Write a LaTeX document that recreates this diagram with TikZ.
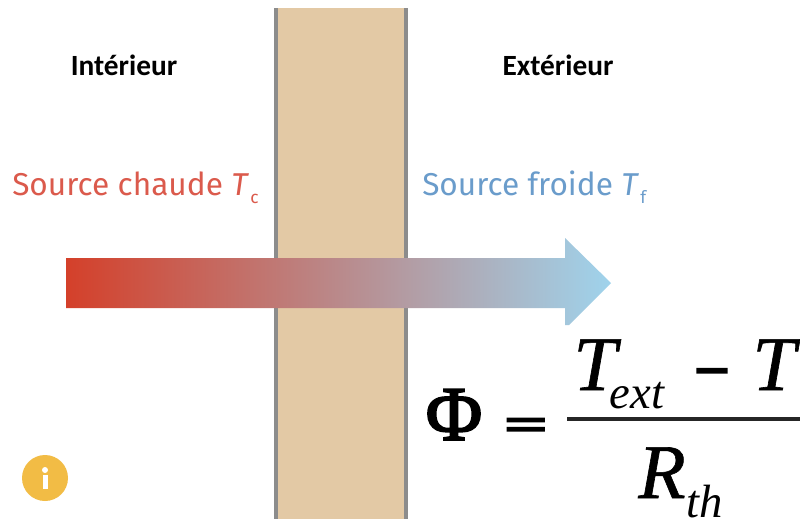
\documentclass[tikz,border=0pt]{standalone}
\usepackage{fontspec}
\setmainfont{Liberation Serif}
\newfontfamily\fira{Fira Sans}
\newfontfamily\carl{Carlito}
\newfontfamily\heavy[FakeBold=2.5]{Liberation Serif}
\newfontfamily\heavyit[FakeBold=0.8]{Liberation Serif Italic}
\newfontfamily\heavybar[FakeBold=3]{Liberation Serif Bold}
\definecolor{wallc}{HTML}{E3C9A5}
\definecolor{wallb}{HTML}{8C8C8C}
\definecolor{hot}{HTML}{D4402A}
\definecolor{hottxt}{HTML}{DB5A4C}
\definecolor{coldtxt}{HTML}{6A9CCB}
\definecolor{cold}{HTML}{9FD3EC}
\definecolor{midc}{HTML}{B3A0AF}
\definecolor{infoc}{HTML}{F2BC45}
\newcommand{\fsz}[1]{\fontsize{#1}{#1}\selectfont}
\tikzset{
  x=0.75pt,y=-0.75pt,
  lab/.style={inner sep=0pt,anchor=base,text=black,font=\carl\bfseries\fsz{22}},
  src/.style={inner sep=0pt,anchor=base west,font=\fira\fsz{23.7}},
  eq/.style={inner sep=0pt,anchor=base,text=black},
}
\begin{document}
\begin{tikzpicture}
\useasboundingbox (0,0) rectangle (800,519);
\fill[white] (0,0) rectangle (800,519);
% wall
\fill[wallc] (277,8) rectangle (406,519);
\draw[wallb,line width=3pt] (276,8) -- (276,519);
\draw[wallb,line width=3pt] (406,8) -- (406,519);
% arrow
\shade[left color=hot,middle color=midc,right color=cold]
  (66,258) -- (565,258) -- (565,238) -- (611,283) -- (569,325) -- (565,325) -- (565,308) -- (66,308) -- cycle;
% labels
\node[lab] (int) at (124,75) {Intérieur};
\node[lab] (ext) at (558,75) {Extérieur};
\node[src,text=hottxt] (hot) at (12,195) {Source chaude \textit{T}\raisebox{-6pt}{\kern1pt\fsz{13}c}};
\node[src,text=coldtxt] (cold) at (422,195) {Source froide \textit{T}\raisebox{-6pt}{\kern1pt\fsz{13}f}};
% info icon
\node[circle,fill=infoc,minimum size=34.5pt,inner sep=0pt] (info) at (45,478) {};
\fill[white] (45,470) circle (3);
\fill[white] (42.5,475) rectangle (47.5,489);
% formula
\node[eq,font=\heavy\fsz{58}] (phi) at (454,440) {Φ};
\node[eq,font=\heavybar\fsz{58}] (equal) at (526,440) {\scalebox{1}[0.6]{=}};
\node[eq,font=\heavyit\fsz{58}] (t1) at (595,390) {T};
\node[eq,font=\itshape\fsz{35}] (extsub) at (637,408) {ext};
\node[eq,font=\heavybar\fsz{43}] (minus) at (712,384) {–};
\node[eq,font=\heavyit\fsz{58}] (t2) at (774,390) {T};
\draw[black!85,line width=2.6pt] (567,419) -- (800,419);
\node[eq,font=\heavyit\fsz{58}] (r) at (662,498) {R};
\node[eq,font=\itshape\fsz{35}] (thsub) at (705,517) {th};
\end{tikzpicture}
\end{document}
